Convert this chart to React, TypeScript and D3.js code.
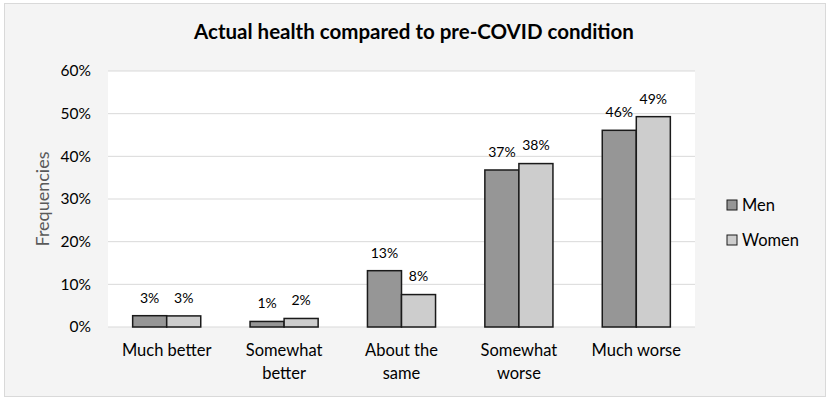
import { useEffect, useRef } from 'react';
import * as d3 from 'd3';

const categories = ['Much better', 'Somewhat better', 'About the same', 'Somewhat worse', 'Much worse'];
const categoryLines = [['Much better'], ['Somewhat', 'better'], ['About the', 'same'], ['Somewhat', 'worse'], ['Much worse']];
const seriesNames = ['Men', 'Women'];
const menValues = [2.65, 1.3, 13.2, 36.8, 46.1];
const womenValues = [2.6, 2.0, 7.6, 38.3, 49.3];
const menLabels = ['3%', '1%', '13%', '37%', '46%'];
const womenLabels = ['3%', '2%', '8%', '38%', '49%'];
const yTicks = [0, 10, 20, 30, 40, 50, 60];

const colors = ['#969696', '#cdcdcd'];
const FONT = 'Lato, "Open Sans", sans-serif';

export default function App() {
  const svgRef = useRef<SVGSVGElement>(null);

  useEffect(() => {
    if (!svgRef.current) return;
    const W = 829;
    const H = 401;
    const svg = d3.select(svgRef.current);
    svg.selectAll('*').remove();
    svg.attr('width', W).attr('height', H);

    // chart background + border
    svg
      .append('rect')
      .attr('x', 4.5)
      .attr('y', 3.5)
      .attr('width', 821)
      .attr('height', 393)
      .attr('fill', '#f4f4f4')
      .attr('stroke', '#d9d9d9');

    const margin = { top: 71, left: 108, right: 134, bottom: 74 };
    const width = W - margin.left - margin.right;
    const chartHeight = H - margin.top - margin.bottom;

    const g = svg.append('g').attr('transform', `translate(${margin.left},${margin.top})`);

    g.append('rect').attr('width', width).attr('height', chartHeight).attr('fill', '#ffffff');

    const x = d3.scaleBand().domain(categories).range([0, width]).paddingInner(0.42).paddingOuter(0.21);
    const x1 = d3.scaleBand().domain(seriesNames).range([0, x.bandwidth()]);
    const y = d3.scaleLinear().domain([0, 60]).range([chartHeight, 0]);

    // Grid lines
    g.append('g')
      .selectAll('line')
      .data(yTicks)
      .enter()
      .append('line')
      .attr('x1', 0)
      .attr('x2', width)
      .attr('y1', (d) => y(d))
      .attr('y2', (d) => y(d))
      .attr('stroke', '#d9d9d9')
      .attr('stroke-width', 1);

    // Y axis labels
    g.append('g')
      .selectAll('text')
      .data(yTicks)
      .enter()
      .append('text')
      .attr('x', -17)
      .attr('y', (d) => y(d))
      .attr('dy', '0.35em')
      .attr('text-anchor', 'end')
      .attr('fill', '#000')
      .attr('font-family', FONT)
      .attr('font-size', '15.5px')
      .text((d) => `${d}%`);

    const series = [menValues, womenValues];
    const labels = [menLabels, womenLabels];

    series.forEach((vals, si) => {
      g.append('g')
        .selectAll('rect')
        .data(vals)
        .enter()
        .append('rect')
        .attr('x', (_, i) => (x(categories[i]) || 0) + (x1(seriesNames[si]) || 0))
        .attr('y', (d) => y(d))
        .attr('width', x1.bandwidth())
        .attr('height', (d) => y(0) - y(d))
        .attr('fill', colors[si])
        .attr('stroke', '#1a1a1a')
        .attr('stroke-width', 1.5);

      g.append('g')
        .selectAll('text')
        .data(vals)
        .enter()
        .append('text')
        .attr('x', (_, i) => (x(categories[i]) || 0) + (x1(seriesNames[si]) || 0) + x1.bandwidth() / 2)
        .attr('y', (d) => y(d) - 18)
        .attr('dy', '0.35em')
        .attr('text-anchor', 'middle')
        .attr('fill', '#000')
        .attr('font-family', FONT)
        .attr('font-size', '14px')
        .text((_, i) => labels[si][i]);
    });

    // Category labels
    categories.forEach((c, i) => {
      const t = g
        .append('text')
        .attr('x', (x(c) || 0) + x.bandwidth() / 2)
        .attr('y', chartHeight + 23)
        .attr('dy', '0.35em')
        .attr('text-anchor', 'middle')
        .attr('fill', '#000')
        .attr('font-family', FONT)
        .attr('font-size', '16.5px');
      categoryLines[i].forEach((line, li) => {
        t.append('tspan')
          .attr('x', (x(c) || 0) + x.bandwidth() / 2)
          .attr('dy', li === 0 ? '0.35em' : '23px')
          .text(line);
      });
    });

    // Title
    svg
      .append('text')
      .attr('x', 414)
      .attr('y', 32)
      .attr('dy', '0.35em')
      .attr('text-anchor', 'middle')
      .attr('font-family', FONT)
      .attr('font-weight', 'bold')
      .attr('font-size', '20.5px')
      .attr('fill', '#000')
      .text('Actual health compared to pre-COVID condition');

    // Y axis title
    svg
      .append('text')
      .attr('transform', `translate(43,${margin.top + chartHeight / 2}) rotate(-90)`)
      .attr('text-anchor', 'middle')
      .attr('dy', '0.35em')
      .attr('font-family', FONT)
      .attr('font-size', '18px')
      .attr('fill', '#595959')
      .text('Frequencies');

    // Legend
    const legend = svg.append('g').attr('transform', 'translate(727,0)');
    seriesNames.forEach((name, i) => {
      const cy = 205 + i * 35;
      legend
        .append('rect')
        .attr('x', 0)
        .attr('y', cy - 5)
        .attr('width', 10)
        .attr('height', 10)
        .attr('fill', colors[i])
        .attr('stroke', '#1a1a1a')
        .attr('stroke-width', 1);
      legend
        .append('text')
        .attr('x', 15)
        .attr('y', cy)
        .attr('dy', '0.35em')
        .attr('font-family', FONT)
        .attr('font-size', '16.5px')
        .attr('fill', '#000')
        .text(name);
    });
  }, []);

  return (
    <div style={{ position: 'absolute', left: 0, top: 0 }}>
      <svg ref={svgRef} style={{ display: 'block' }} />
    </div>
  );
}
